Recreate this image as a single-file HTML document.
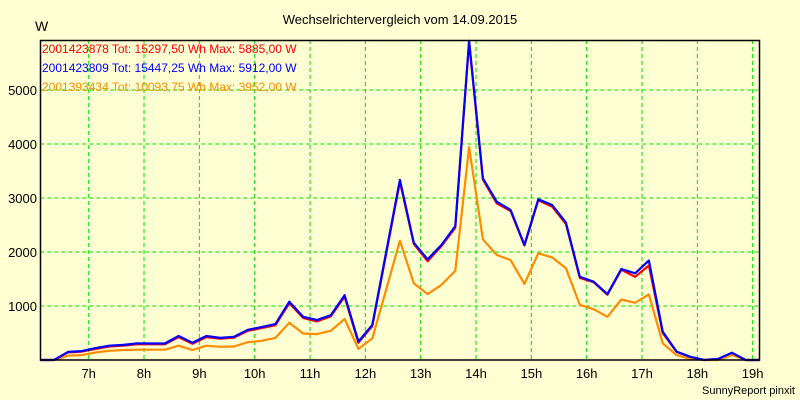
<!DOCTYPE html>
<html><head><meta charset="utf-8"><style>
body{margin:0;background:#ffffd4;}
svg{display:block;font-family:"Liberation Sans",sans-serif;}
</style></head><body>
<svg id="chart" width="800" height="400">
<rect x="0" y="0" width="800" height="400" fill="#ffffd4"/>
<text x="400" y="24" text-anchor="middle" font-size="13" fill="#000">Wechselrichtervergleich vom 14.09.2015</text>
<text x="35" y="31" font-size="14" fill="#000">W</text>
<g id="grid"></g>
<g id="series"></g>
<rect x="40.5" y="40.5" width="719" height="319.5" fill="none" stroke="#000" stroke-width="1.5"/>
<g id="axes"></g>
<g font-size="12">
<text x="42" y="53" fill="#ff0000">2001423878 Tot: 15297,50 Wh Max: 5885,00 W</text>
<text x="42" y="72" fill="#0000ff">2001423809 Tot: 15447,25 Wh Max: 5912,00 W</text>
<text x="42" y="85" fill="#ff8c00" dy="6">2001393434 Tot: 10093,75 Wh Max: 3952,00 W</text>
</g>
<text x="795" y="394" text-anchor="end" font-size="11" fill="#000">SunnyReport pinxit</text>
</svg>
<script>
const startHour = 6.125; // first sample 6:07.5, 15-min steps
const stepHours = 0.25;
const yTicks = [1000, 2000, 3000, 4000, 5000];
const xTicks = [7, 8, 9, 10, 11, 12, 13, 14, 15, 16, 17, 18, 19];
const xTickLabels = ["7h","8h","9h","10h","11h","12h","13h","14h","15h","16h","17h","18h","19h"];
const blueValues = [0,0,150,165,220,265,280,310,305,305,445,320,445,410,430,560,610,665,1080,800,740,830,1200,340,650,1990,3335,2170,1865,2130,2480,5912,3365,2930,2780,2130,2975,2870,2545,1540,1450,1220,1685,1605,1840,525,155,60,0,20,135,0,0];
const redValues = [0,0,140,155,205,250,265,295,290,290,425,300,425,395,415,540,590,645,1050,780,715,810,1170,320,630,1960,3300,2150,1830,2110,2450,5885,3340,2900,2760,2120,2960,2840,2520,1520,1440,1210,1670,1540,1750,500,150,55,0,15,120,0,0];
const orangeValues = [0,0,80,90,140,170,185,190,190,190,265,185,265,245,250,330,355,410,690,490,480,540,760,205,400,1300,2210,1420,1220,1390,1650,3940,2235,1945,1850,1410,1975,1900,1700,1020,940,800,1120,1060,1215,310,90,20,0,0,90,0,0];
const seriesList = [
  {name:"series-2001423878", values:redValues, color:"#ff0000"},
  {name:"series-2001393434", values:orangeValues, color:"#ff8c00"},
  {name:"series-2001423809", values:blueValues, color:"#0000ff"}
];
const NS = "http://www.w3.org/2000/svg";
const plotLeft = 40.3, plotRight = 759.6, plotTop = 40, plotBottom = 360;
const pxPerHour = 55.33, pxPerWatt = 0.054;
function xScale(h){ return 88.7 + (h - 7) * pxPerHour; }
function yScale(v){ return plotBottom - v * pxPerWatt; }
const grid = document.getElementById('grid');
const axes = document.getElementById('axes');
yTicks.forEach(function(t){
  const y = yScale(t);
  const l = document.createElementNS(NS,'line');
  l.setAttribute('x1', plotLeft); l.setAttribute('x2', plotRight);
  l.setAttribute('y1', y); l.setAttribute('y2', y);
  l.setAttribute('stroke', '#00e000'); l.setAttribute('stroke-dasharray', '4,3');
  
  
  grid.appendChild(l);
  const tx = document.createElementNS(NS,'text');
  tx.setAttribute('x', 37); tx.setAttribute('y', y + 5);
  tx.setAttribute('text-anchor', 'end'); tx.setAttribute('font-size', '13');
  tx.textContent = t;
  
  
  axes.appendChild(tx);
});
xTicks.forEach(function(t, i){
  const x = xScale(t);
  const l = document.createElementNS(NS,'line');
  l.setAttribute('x1', x); l.setAttribute('x2', x);
  l.setAttribute('y1', plotTop); l.setAttribute('y2', plotBottom);
  l.setAttribute('stroke', '#00e000'); l.setAttribute('stroke-dasharray', '4,3');
  
  
  grid.appendChild(l);
  const tx = document.createElementNS(NS,'text');
  tx.setAttribute('x', x); tx.setAttribute('y', 378);
  tx.setAttribute('text-anchor', 'middle'); tx.setAttribute('font-size', '13');
  tx.textContent = xTickLabels[i];
  
  
  axes.appendChild(tx);
});
const sg = document.getElementById('series');
seriesList.forEach(function(s){
  const pts = s.values.map(function(v, i){
    return xScale(startHour + i * stepHours).toFixed(1) + ',' + Math.max(plotTop, yScale(v)).toFixed(1);
  }).join(' ');
  const pl = document.createElementNS(NS,'polyline');
  pl.setAttribute('points', pts);
  pl.setAttribute('fill', 'none');
  pl.setAttribute('stroke', s.color);
  pl.setAttribute('stroke-width', '2.2');
  pl.setAttribute('stroke-linejoin', 'round');
  
  
  sg.appendChild(pl);
});
</script>
</body></html>
